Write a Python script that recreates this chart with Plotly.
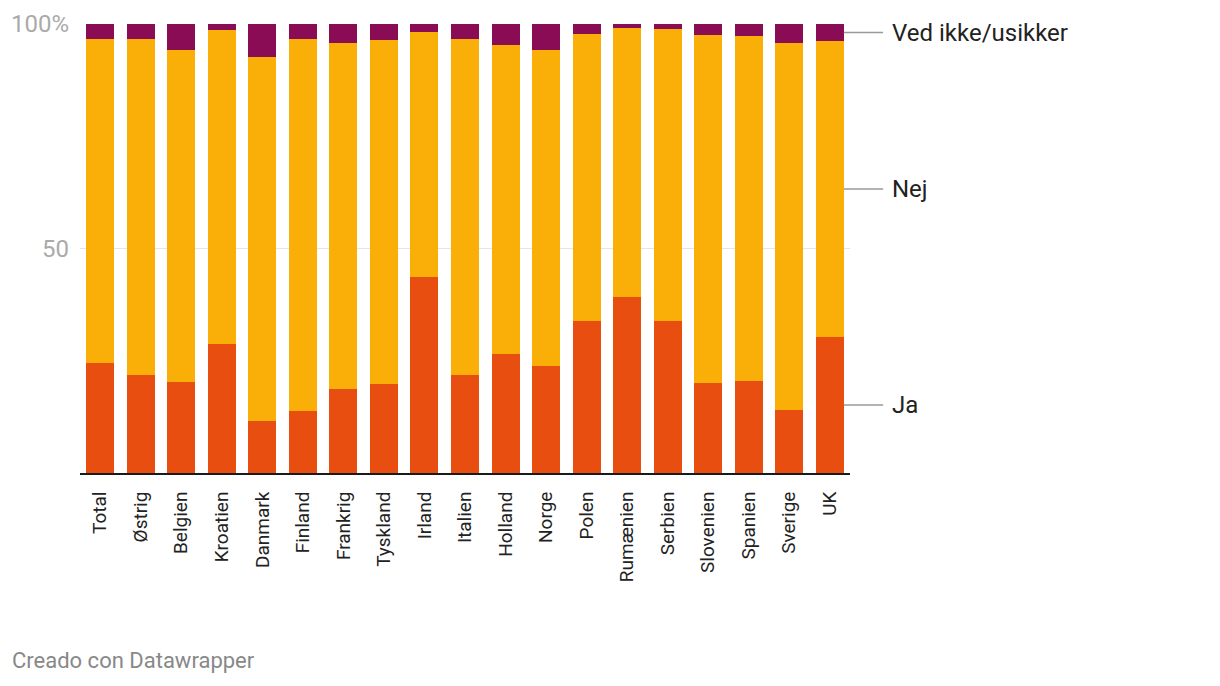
import plotly.graph_objects as go

categories = ["Total", "Østrig", "Belgien", "Kroatien", "Danmark", "Finland", "Frankrig",
              "Tyskland", "Irland", "Italien", "Holland", "Norge", "Polen", "Rumænien",
              "Serbien", "Slovenien", "Spanien", "Sverige", "UK"]
ja = [24.5, 21.8, 20.3, 28.7, 11.6, 13.8, 18.7, 19.8, 43.7, 21.8, 26.5, 23.8, 33.9, 39.2,
      33.9, 20.0, 20.5, 14.0, 30.3]
nej = [72.2, 74.9, 73.9, 70.0, 81.1, 82.9, 77.1, 76.6, 54.5, 74.9, 68.8, 70.4, 63.9, 59.9,
       65.0, 77.6, 76.8, 81.8, 65.9]
ved = [3.3, 3.3, 5.8, 1.3, 7.3, 3.3, 4.2, 3.6, 1.8, 3.3, 4.7, 5.8, 2.2, 0.9,
       1.1, 2.4, 2.7, 4.2, 3.8]
series_names = ["Ja", "Nej", "Ved ikke/usikker"]
series_colors = ["#e84e10", "#f9ae08", "#890c55"]
tick_vals = [50, 100]
tick_text = ["50", "100%"]
footer = "Creado con Datawrapper"

FONT = "Roboto"
fig = go.Figure()
for name, vals, col in zip(series_names, [ja, nej, ved], series_colors):
    fig.add_trace(go.Bar(x=categories, y=vals, name=name, marker_color=col,
                         marker_line_width=0, showlegend=False, hoverinfo="x+y+name"))

# page body has an 8px default margin, so the figure is placed at (8, 8)
fig.update_layout(
    barmode="stack", bargap=0.31,
    width=1212, height=678,
    margin=dict(l=72, r=370, t=16, b=213),
    paper_bgcolor="white", plot_bgcolor="white",
    font=dict(family=FONT, color="#333"),
)
fig.update_yaxes(range=[0, 100], tickvals=tick_vals, ticktext=tick_text,
                 showgrid=True, gridcolor="#e5e5e5", gridwidth=1,
                 zeroline=False, showline=False, ticks="", automargin=False,
                 tickfont=dict(size=24, color="#aaaaaa", family=FONT),
                 ticklabelstandoff=10, fixedrange=True)
fig.update_xaxes(tickangle=-90, showline=True, linecolor="#1a1a1a", linewidth=2,
                 ticks="", automargin=False, tickfont=dict(size=19, color="#222", family=FONT),
                 ticklabelstandoff=9, fixedrange=True)

# labels at mid of the last bar's segments
last = len(categories) - 1
cum = 0
for name, vals in zip(series_names, [ja, nej, ved]):
    mid = cum + vals[last] / 2
    cum += vals[last]
    fig.add_shape(type="line", xref="paper", yref="y", x0=0.992, x1=1.043, y0=mid, y1=mid,
                  line=dict(color="#999999", width=1.5))
    fig.add_annotation(xref="paper", yref="y", x=1.052, y=mid, text=name, showarrow=False,
                       xanchor="left", yanchor="middle",
                       font=dict(size=24, color="#222", family=FONT))

fig.add_annotation(xref="paper", yref="paper", x=(10 - 80) / 770, y=-(660 - 473) / 449,
                   text=footer, showarrow=False, xanchor="left", yanchor="middle",
                   font=dict(size=22, color="#888888", family=FONT))

fig.write_html("out.html")
